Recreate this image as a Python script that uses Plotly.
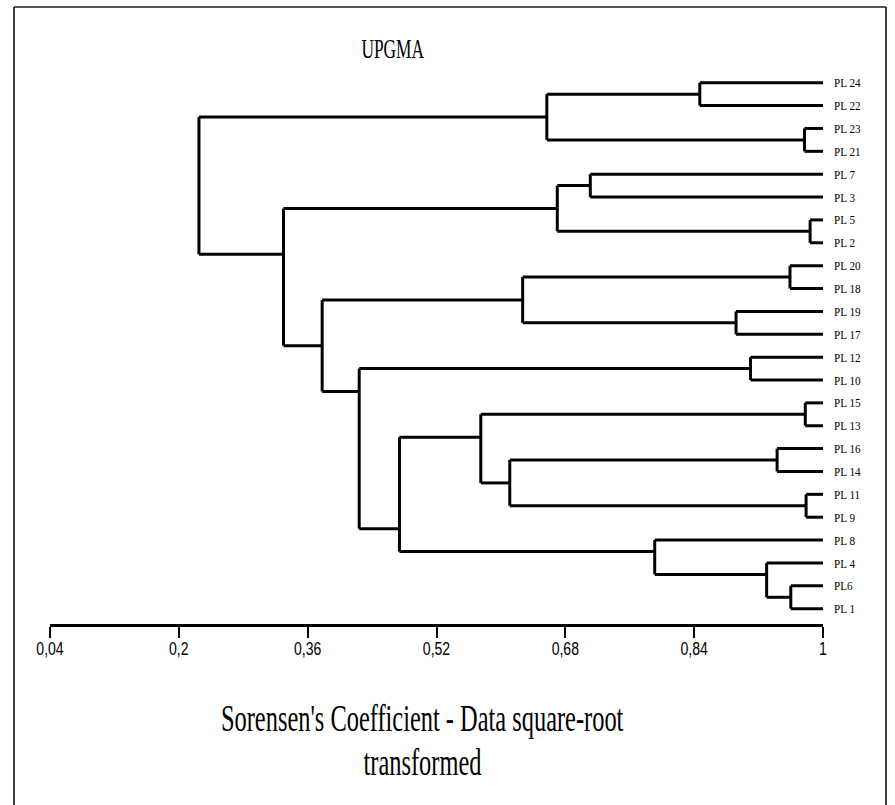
import plotly.graph_objects as go

# Leaves, top to bottom
leaf_labels = ["PL 24", "PL 22", "PL 23", "PL 21", "PL 7", "PL 3", "PL 5", "PL 2",
               "PL 20", "PL 18", "PL 19", "PL 17", "PL 12", "PL 10", "PL 15", "PL 13",
               "PL 16", "PL 14", "PL 11", "PL 9", "PL 8", "PL 4", "PL6", "PL 1"]

# UPGMA merges: children are leaf labels or indices of earlier merges
merge_a = ["PL 24", "PL 23", 0, "PL 7", "PL 5", 3, "PL 20", "PL 19", 6, "PL 12",
           "PL 15", "PL 16", "PL 11", 11, 10, "PL6", "PL 4", "PL 8", 14, 9, 8, 5, 2]
merge_b = ["PL 22", "PL 21", 1, "PL 3", "PL 2", 4, "PL 18", "PL 17", 7, "PL 10",
           "PL 13", "PL 14", "PL 9", 12, 13, "PL 1", 15, 16, 17, 18, 19, 20, 21]
merge_height = [0.847, 0.977, 0.657, 0.711, 0.984, 0.670, 0.959, 0.892, 0.627, 0.910,
                0.978, 0.943, 0.979, 0.611, 0.575, 0.960, 0.930, 0.791, 0.474, 0.424,
                0.378, 0.330, 0.225]

tick_vals = [0.04, 0.2, 0.36, 0.52, 0.68, 0.84, 1.0]
tick_text = ["0,04", "0,2", "0,36", "0,52", "0,68", "0,84", "1"]

# ---- build dendrogram segments ----
leaf_index = {name: i for i, name in enumerate(leaf_labels)}
nodes = []  # (x, y, min_idx, max_idx)


def info(c):
    if isinstance(c, str):
        i = leaf_index[c]
        return (1.0, i, i, i)
    return nodes[c]


xs, ys = [], []
for a, b, h in zip(merge_a, merge_b, merge_height):
    ia, ib = info(a), info(b)
    up, lo = (ia, ib) if ia[2] < ib[2] else (ib, ia)
    y = (up[3] + lo[2]) / 2.0
    for ch in (up, lo):
        xs += [ch[0], h, None]
        ys += [ch[1], ch[1], None]
    xs += [h, h, None]
    ys += [up[1], lo[1], None]
    nodes.append((h, y, min(up[2], lo[2]), max(up[3], lo[3])))

fig = go.Figure()
fig.add_trace(go.Scatter(x=xs, y=ys, mode="lines",
                         line=dict(color="black", width=3),
                         hoverinfo="skip", showlegend=False))

W, H = 895, 805
L, R, T, B = 50, 72, 60, 181
n = len(leaf_labels)
SERIF = "Liberation Serif, Times New Roman, serif"

fig.update_layout(
    width=W, height=H,
    margin=dict(l=L, r=R, t=T, b=B, pad=0),
    paper_bgcolor="white", plot_bgcolor="white",
    showlegend=False,
    xaxis=dict(range=[0.04, 1.0], tickvals=tick_vals, ticktext=tick_text,
               showgrid=False, zeroline=False, showline=True, linecolor="black",
               linewidth=3, ticks="outside", ticklen=11, tickwidth=2, tickcolor="black",
               ticklabelstandoff=-5,
               tickfont=dict(family="Liberation Sans, Arial, sans-serif",
                             size=18.5, color="black")),
    yaxis=dict(range=[n - 1 + 0.669, -0.993], side="right",
               tickvals=list(range(n)), ticktext=leaf_labels,
               showgrid=False, zeroline=False, showline=False, ticks="",
               ticklabelstandoff=10,
               tickfont=dict(family=SERIF, size=13, color="black")),
    annotations=[
        dict(text="UPGMA", xref="paper", yref="paper",
             x=(393 - L) / (W - L - R), y=(H - B - 48) / (H - T - B),
             xanchor="center", yanchor="middle", showarrow=False,
             font=dict(family=SERIF, size=28, color="black")),
        dict(text="Sorensen's Coefficient - Data square-root", xref="paper", yref="paper",
             x=(422 - L) / (W - L - R), y=(H - B - 718) / (H - T - B),
             xanchor="center", yanchor="middle", showarrow=False,
             font=dict(family=SERIF, size=37, color="black")),
        dict(text="transformed", xref="paper", yref="paper",
             x=(422 - L) / (W - L - R), y=(H - B - 762) / (H - T - B),
             xanchor="center", yanchor="middle", showarrow=False,
             font=dict(family=SERIF, size=37, color="black")),
    ],
)

# frame around the figure
pw, ph = W - L - R, H - T - B
def px_x(p):
    return (p - L) / pw
def px_y(p):
    return (H - B - p) / ph

fig.add_shape(type="line", xref="paper", yref="paper",
              x0=px_x(14), x1=px_x(886), y0=px_y(7), y1=px_y(7),
              line=dict(color="#555555", width=2))
fig.add_shape(type="line", xref="paper", yref="paper",
              x0=px_x(14), x1=px_x(14), y0=px_y(7), y1=px_y(810),
              line=dict(color="black", width=1.5))
fig.add_shape(type="line", xref="paper", yref="paper",
              x0=px_x(886), x1=px_x(886), y0=px_y(7), y1=px_y(810),
              line=dict(color="black", width=1.5))

post_js = """
document.body.style.margin = '0';
document.body.style.overflow = 'hidden';
var gd = document.getElementById('{plot_id}');
function squeeze(t, s, mode){
  var b = t.getBBox();
  var cx = (mode === 'left') ? b.x : b.x + b.width / 2;
  var tr = t.getAttribute('transform') || '';
  t.setAttribute('transform', tr + ' translate(' + cx + ',0) scale(' + s + ',1) translate(' + (-cx) + ',0)');
}
var sc = [0.62, 0.66, 0.66];
gd.querySelectorAll('g.annotation').forEach(function(g){
  var i = parseInt(g.getAttribute('data-index')) || 0;
  g.querySelectorAll('text.annotation-text').forEach(function(t){ squeeze(t, sc[i] || 0.66, 'center'); });
});
gd.querySelectorAll('g.xtick text').forEach(function(t){ squeeze(t, 0.76, 'center'); });
gd.querySelectorAll('g.ytick text').forEach(function(t){ squeeze(t, 0.86, 'left'); });
"""

fig.write_html("out.html", post_script=post_js, config={"displayModeBar": False})
